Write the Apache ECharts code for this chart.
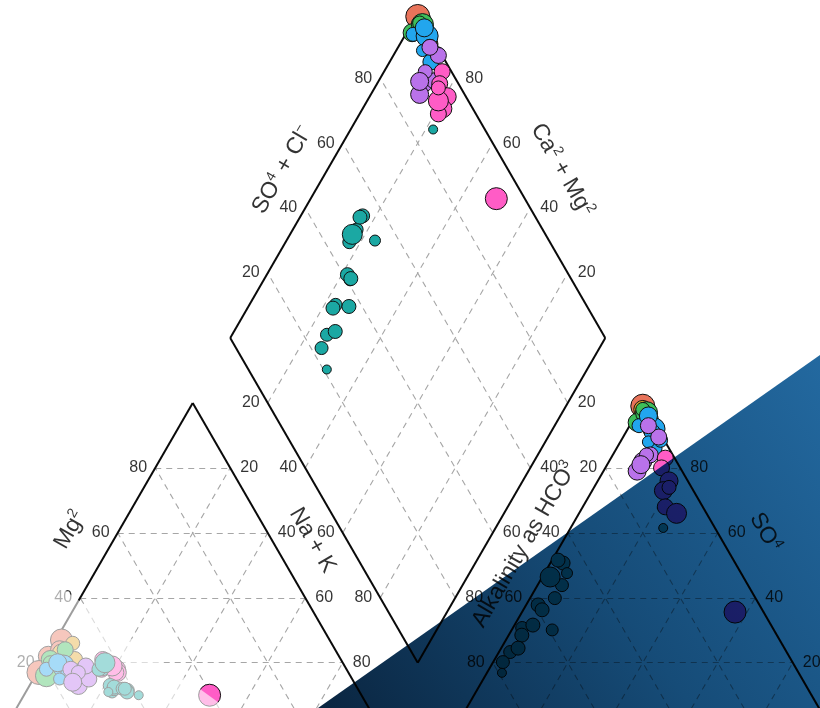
<!DOCTYPE html>
<html>
<head>
<meta charset="utf-8">
<script src="https://cdn.jsdelivr.net/npm/echarts@6/dist/echarts.min.js"></script>
<style>
html,body{margin:0;padding:0;background:#fff;}
#chart{width:820px;height:708px;}
</style>
</head>
<body>
<div id="chart"></div>
<script>
// ---------------- DATA ----------------
const groupNames = ['Group 1', 'Group 2', 'Group 3', 'Group 4', 'Group 5', 'Group 6', 'Group 7'];
const groupColors = ['#E8735A', '#E3A92B', '#3DBE5A', '#22A6EE', '#B972EA', '#FF5CC6', '#1BA8A3'];

const sampleGroup = [0,0,0,0, 1,1,1, 2,2,2,2, 3,3,3,3,3,3,3, 4,4,4,4,4,4,4, 5,5,5,5,5,5,5,5,
                     6,6,6,6,6,6,6,6,6,6,6,6,6,6,6,6,6];
// cations, % meq
const mgPct  = [27,22,17,24, 23,21,26, 21,16,24,20, 18,19,17,16,18,20,15, 18,13,15,19,18,17,14,
                21,18,18,17,17,19,19,10,
                19,18,11,12,19,18,20,12,13,12,12.5,11.5,12,11,12,10,11];
const nakPct = [1.5,0.5,0.5,2.5, 3.5,8,5, 1.5,3,4,2, 2,6,8.5,11,11.5,4,7, 12.4,13,14.8,12,8.5,11,11,
                15.5,16.7,20.7,21.4,21,19,17,49.5,
                17,17,23,23,16.5,16,16.6,23.6,21.5,23,22.8,26.8,25.3,27,25.9,30.6,22];
// anions, % meq
const so4Pct = [99,98.5,99,97.5, 98,96,97, 94,97,95,98, 93,92,91,86,88.5,96,88, 82,79,84,89.5,93,84,81,
                83,80,76,73,68,66,74,35.6,
                43.9,39.9,30.1,30.7,50.7,51.6,46.4,47.6,37.8,36.3,28.5,31.6,23.3,24.5,20.2,16.9,61.5];
const clPct  = [0.5,1,0.5,1.5, 1,2.5,2, 1.5,2.5,4.5,1, 2.5,7,7,10,10.5,3.5,7.5, 9,9,10,9.5,5,9,9,
                14.5,15,19,19,22,26,20,56.8,
                6.5,6.6,10.8,2.5,3.4,1.6,2.1,6,3.2,5,3.5,4.9,3,4.5,2.6,4,24.7];
const sampleSize = [22,20,24,18, 18,16,14, 18,22,16,14, 14,22,16,16,14,18,12, 18,18,16,16,16,14,18,
                    16,16,18,18,16,20,14,22,
                    13,13,12,13,14,14,20,11,14,14,14,14,13,14,13,9,9];

const tickValues = [20, 40, 60, 80];
const titleTexts = [
  '{n|SO}{s|4}{n| + Cl}{s|\u2212}',
  '{n|Ca}{s|2}{n| + Mg}{s|2}',
  '{n|Mg}{s|2}',
  '{n|Na + K}',
  '{n|Alkalinity as HCO}{s|3}',
  '{n|SO}{s|4}'
];

// ---------------- GEOMETRY ----------------
const G = 0.2, H = Math.sqrt(3) / 2;
const view = { xMin: -0.013867, xMax: 2.172533, yMin: 0.052533, yMax: 1.940533 };
const B0 = [1 + G / 2, H * G];
const e1 = [-0.5, H], e2 = [0.5, H];
const add = (a, b, k = 1) => [a[0] + k * b[0], a[1] + k * b[1]];

function cationXY(mg, nak) { return [nak / 100 + 0.5 * mg / 100, H * mg / 100]; }
function anionXY(so4, cl) { return [1 + G + cl / 100 + 0.5 * so4 / 100, H * so4 / 100]; }
function diamondXY(nak, so4cl) {
  const P = 1 - nak / 100, Q = so4cl / 100;
  return add(add(B0, e1, P), e2, Q);
}

// grid lines & outlines
const gridSegs = [], outlineSegs = [];
[0, 1 + G].forEach(ox => {
  const A = [ox, 0], B = [ox + 1, 0], C = [ox + 0.5, H];
  outlineSegs.push([A, B], [B, C], [C, A]);
  tickValues.forEach(v => {
    const k = v / 100;
    gridSegs.push([[ox + 0.5 * k, H * k], [ox + 1 - 0.5 * k, H * k]]);
    gridSegs.push([[ox + k, 0], [ox + 0.5 + 0.5 * k, H * (1 - k)]]);
    gridSegs.push([[ox + k, 0], [ox + 0.5 * k, H * k]]);
  });
});
const DL = add(B0, e1), DR = add(B0, e2), DT = add(DL, e2);
outlineSegs.push([B0, DL], [DL, DT], [DT, DR], [DR, B0]);
tickValues.forEach(v => {
  const k = v / 100;
  gridSegs.push([add(B0, e1, k), add(add(B0, e1, k), e2)]);
  gridSegs.push([add(B0, e2, k), add(add(B0, e2, k), e1)]);
});

// tick labels
const tickData = [];
function tick(pt, v, side) {
  tickData.push({ value: pt, name: String(v), label: { position: side, distance: side === 'left' ? 8 : 10 } });
}
tickValues.forEach(v => {
  const k = v / 100;
  tick([0.5 * k, H * k], v, 'left');                         // Mg
  tick([0.5 + 0.5 * k, H * (1 - k)], v, 'right');            // Na + K
  tick(add(DL, e2, k), v, 'left');                           // SO4 + Cl
  tick(add(DR, e1, k), v, 'right');                          // Ca + Mg
  tick(add(B0, e1, 1 - k), v, 'left');                       // Na + K (diamond)
  tick(add(B0, e2, 1 - k), v, 'right');                      // HCO3 (diamond)
  tick([1 + G + 0.5 * (1 - k), H * (1 - k)], v, 'left');     // Alkalinity
  tick([2 + G - 0.5 * k, H * k], v, 'right');                // SO4
});

// axis titles: edge start, edge end, fraction along, outward offset, rotation
const titleLayout = [
  { s: DL, e: DT, t: 0.458, d: 0.104, rot: 60 },
  { s: DR, e: DT, t: 0.446, d: -0.124, rot: -60 },
  { s: [0, 0], e: [0.5, H], t: 0.543, d: 0.114, rot: 60 },
  { s: [0.5, H], e: [1, 0], t: 0.477, d: 0.093, rot: -60 },
  { s: [1 + G, 0], e: [1.5 + G, H], t: 0.515, d: 0.084, rot: 60 },
  { s: [1.5 + G, H], e: [2 + G, 0], t: 0.462, d: 0.11, rot: -60 }
];
const titleData = titleLayout.map((L, i) => {
  const dx = L.e[0] - L.s[0], dy = L.e[1] - L.s[1];
  const len = Math.hypot(dx, dy);
  const n = [-dy / len, dx / len];
  const p = [L.s[0] + L.t * dx + L.d * n[0], L.s[1] + L.t * dy + L.d * n[1]];
  return { value: p, name: titleTexts[i], label: { rotate: L.rot } };
});

// samples
const sampleSeries = groupNames.map((gname, g) => {
  const data = [];
  sampleGroup.forEach((grp, i) => {
    if (grp !== g) return;
    const s = sampleSize[i];
    data.push({ value: cationXY(mgPct[i], nakPct[i]), symbolSize: s });
    data.push({ value: anionXY(so4Pct[i], clPct[i]), symbolSize: s });
    data.push({ value: diamondXY(nakPct[i], so4Pct[i] + clPct[i]), symbolSize: s });
  });
  return {
    type: 'scatter', name: gname, data, clip: false, z: 5,
    itemStyle: { color: groupColors[g], borderColor: '#111111', borderWidth: 1, opacity: 1 },
    emphasis: { disabled: true }
  };
});

const font = '"Liberation Sans", Arial, Helvetica, sans-serif';
const chart = echarts.init(document.getElementById('chart'), null, { renderer: 'canvas' });
chart.setOption({
  animation: false,
  backgroundColor: '#ffffff',
  grid: { left: 0, right: 0, top: 0, bottom: 0 },
  xAxis: { type: 'value', min: view.xMin, max: view.xMax, show: false },
  yAxis: { type: 'value', min: view.yMin, max: view.yMax, show: false },
  series: [
    {
      type: 'lines', coordinateSystem: 'cartesian2d', silent: true, z: 1,
      lineStyle: { color: '#a6a6a6', width: 1.1, type: [6, 5], opacity: 1 },
      data: gridSegs.map(c => ({ coords: c }))
    },
    {
      type: 'lines', coordinateSystem: 'cartesian2d', silent: true, z: 2,
      lineStyle: { color: '#0a0a0a', width: 2, type: 'solid', opacity: 1 },
      data: outlineSegs.map(c => ({ coords: c }))
    },
    {
      type: 'scatter', silent: true, z: 3, symbolSize: 0.1, clip: false,
      itemStyle: { color: 'rgba(0,0,0,0)' },
      label: { show: true, formatter: p => p.name, color: '#000000', fontSize: 16, fontFamily: font },
      data: tickData
    },
    {
      type: 'scatter', silent: true, z: 3, symbolSize: 0.1, clip: false,
      itemStyle: { color: 'rgba(0,0,0,0)' },
      label: {
        show: true, position: 'inside', formatter: p => p.name,
        rich: {
          n: { fontSize: 23, lineHeight: 26, color: '#000000', fontFamily: font },
          s: { fontSize: 14, lineHeight: 14, color: '#000000', fontFamily: font, verticalAlign: 'top' }
        }
      },
      data: titleData
    },
    ...sampleSeries
  ],
  graphic: {
    elements: [
      {
        type: 'polygon', silent: true, z: 100,
        shape: { points: [[0, 543], [0, 708], [226, 708]] },
        style: { fill: 'rgba(255,255,255,0.6)' }
      },
      {
        type: 'polygon', silent: true, z: 101,
        shape: { points: [[318, 708], [820, 355], [820, 708]] },
        style: {
          fill: new echarts.graphic.LinearGradient(0, 1, 1, 0, [
            { offset: 0, color: '#0a2540' },
            { offset: 0.5, color: '#164c78' },
            { offset: 1, color: '#2369a0' }
          ]),
          blend: 'multiply'
        }
      }
    ]
  }
});
</script>
</body>
</html>
